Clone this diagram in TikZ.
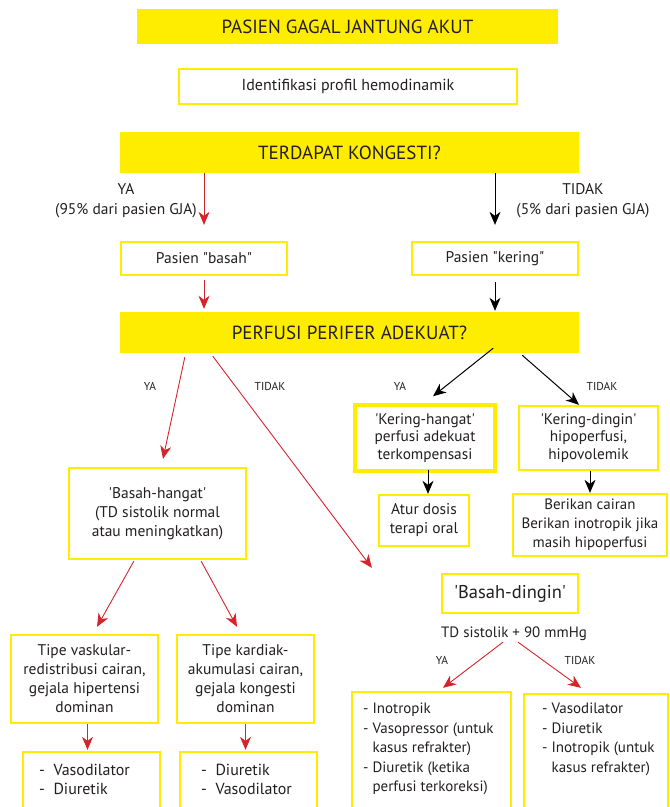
\documentclass[tikz,border=0pt]{standalone}
\usepackage{fontspec}
\setmainfont{PT Sans}
\usetikzlibrary{arrows.meta,calc}
\definecolor{yel}{RGB}{255,237,0}
\definecolor{redarr}{RGB}{214,36,44}
\definecolor{txt}{RGB}{35,31,32}
\newcommand\fs[2]{\fontsize{#1}{#2}\selectfont}
\newcommand\sq{\textquotesingle}
\newcommand\dq{\textquotedbl}
\begin{document}
\begin{tikzpicture}[x=1pt,y=-1pt,
  every node/.style={text=txt, inner sep=0pt, align=center},
  hdr/.style={fill=yel, font=\fs{19}{22}},
  ybox/.style={draw=yel, line width=2.3pt},
  ra/.style={draw=redarr, line width=0.9pt, -{Stealth[length=13pt,width=11pt,inset=4pt]}},
  ba/.style={draw=black, line width=1pt, -{Stealth[length=13pt,width=11pt,inset=4pt]}},
  lbl/.style={font=\fs{11.5}{13}},
  lbm/.style={font=\fs{15.5}{20}},
  bx/.style 2 args={minimum width=#1, minimum height=#2}
]
\useasboundingbox (0,0) rectangle (670,807);
\clip (0,0) rectangle (670,807);

% header boxes
\node[hdr, bx={421pt}{35pt}] (top) at (347.5,26.5) {PASIEN GAGAL JANTUNG AKUT};
\node[draw=yel, line width=2pt, bx={338pt}{35pt}, font=\fs{16}{19}] (ident) at (348,86.5) {Identifikasi profil hemodinamik};
\node[hdr, bx={459pt}{41pt}] (kong) at (349.5,152.5) {TERDAPAT KONGESTI?};

\node[lbm] (ya1) at (126,201) {YA\\(95\% dari pasien GJA)};
\node[lbm] (tidak1) at (583,201) {TIDAK\\(5\% dari pasien GJA)};

\node[ybox, bx={166pt}{33pt}, font=\fs{15.5}{18}] (basah) at (204,258.5) {Pasien \dq basah\dq};
\node[ybox, bx={166pt}{33pt}, font=\fs{15.5}{18}] (kering) at (495,258.5) {Pasien \dq kering\dq};

\node[hdr, bx={459pt}{41pt}] (perf) at (349.5,332.5) {PERFUSI PERIFER ADEKUAT?};

\node[lbl] (ya2) at (150,386) {YA};
\node[lbl] (tidak2) at (270,386) {TIDAK};
\node[lbl] (ya3) at (400,386) {YA};
\node[lbl] (tidak3) at (602,386) {TIDAK};

\node[draw=yel, line width=3.5pt, bx={140pt}{66pt}, font=\fs{15.3}{17.5}] (kh) at (425,438) {\sq Kering-hangat\sq\\perfusi adekuat\\terkompensasi};
\node[ybox, bx={139pt}{64pt}, font=\fs{15.3}{17.5}] (kd) at (588.5,438) {\sq Kering-dingin\sq\\hipoperfusi,\\hipovolemik};

\node[ybox, bx={177pt}{91pt}, font=\fs{15.5}{19}] (bh) at (157.5,513.5) {\sq Basah-hangat\sq\\(TD sistolik normal\\atau meningkatkan)};

\node[ybox, bx={90pt}{51pt}, font=\fs{15.5}{19}] (atur) at (424,520.5) {Atur dosis\\terapi oral};
\node[ybox, bx={154pt}{62pt}, font=\fs{15}{19}] (berikan) at (590,525) {Berikan cairan\\Berikan inotropik jika\\masih hipoperfusi};

\node[ybox, bx={136pt}{39pt}, font=\fs{18.5}{22}] (bd) at (510,593.5) {\sq Basah-dingin\sq};
\node[font=\fs{15}{18}] (td) at (514,634) {TD sistolik + 90 mmHg};
\node[lbl] (ya4) at (442,660) {YA};
\node[lbl] (tidak4) at (580,660) {TIDAK};

\node[ybox, bx={147pt}{88pt}, font=\fs{15.5}{19}] (tv) at (84.5,679) {Tipe vaskular-\\redistribusi cairan,\\gejala hipertensi\\dominan};
\node[ybox, bx={137pt}{88pt}, font=\fs{15.5}{19}] (tk) at (245.5,679) {Tipe kardiak-\\akumulasi cairan,\\gejala kongesti\\dominan};

\node[ybox, bx={137pt}{88pt}] (vd1) at (91.5,796) {};
\node[ybox, bx={137pt}{88pt}] (vd2) at (248.5,796) {};
\node[ybox, bx={159pt}{148pt}] (ino) at (431.5,766) {};
\node[ybox, bx={144pt}{146pt}] (vas) at (596,767) {};

\node[anchor=north west, align=left, font=\fs{16}{19}] (vd1t) at (39,764) {-\ \ Vasodilator\\-\ \ Diuretik};
\node[anchor=north west, align=left, font=\fs{16}{19}] (vd2t) at (201,764) {-\ \ Diuretik\\-\ \ Vasodilator};
\node[anchor=north west, align=left, font=\fs{15}{19.5}] (inot) at (363,703) {- Inotropik\\- Vasopressor (untuk\\\phantom{- }kasus refrakter)\\- Diuretik (ketika\\\phantom{- }perfusi terkoreksi)};
\node[anchor=north west, align=left, font=\fs{15}{19.5}] (vast) at (542,703) {- Vasodilator\\- Diuretik\\- Inotropik (untuk\\\phantom{- }kasus refrakter)};

% connectors
\draw[ra, shorten >=16pt] (basah.north |- kong.south) -- (basah.north);
\draw[ba, shorten >=16pt] (kering.north |- kong.south) -- (kering.north);
\draw[ra, shorten <=4pt, shorten >=3pt] (basah.south) -- (basah.south |- perf.north);
\draw[ba, shorten <=6pt, shorten >=1pt] (kering.south) -- (kering.south |- perf.north);
\draw[ra] ($(perf.south west)+(65,4)$) -- ($(bh.north)+(5.5,-8)$);
\draw[ra] ($(perf.south west)+(93,3)$) -- ($(bd.north west)+(-69,-5)$);
\draw[ba] ($(perf.south east)+(-86,-5)$) -- ($(kh.north)+(8,-7)$);
\draw[ba] ($(perf.south east)+(-57,2)$) -- ($(kd.north)+(-9.5,0)$);
\draw[ba] ($(atur.north)+(4,0)$) ++(0,-24) -- ($(atur.north)+(4,0)$);
\draw[ba] (berikan.north |- kd.south) -- (berikan.north);
\draw[ra] ($(bh.south west)+(66,1)$) -- ($(tv.north)+(12.5,-7)$);
\draw[ra] ($(bh.south east)+(-46,1)$) -- ($(tk.north)+(-8.5,-7)$);
\draw[ra, shorten >=1pt] (tv.south -| vd1.north) ++(-4,0) -- ($(vd1.north)+(-4,0)$);
\draw[ra, shorten >=1pt] (tk.south) -- (tk.south |- vd2.north);
\draw[ra] ($(td.south)+(-11,1)$) -- ($(ino.north)+(11.5,-3)$);
\draw[ra] ($(td.south)+(4,1)$) -- ($(vas.north)+(-15,-5)$);
\end{tikzpicture}
\end{document}
